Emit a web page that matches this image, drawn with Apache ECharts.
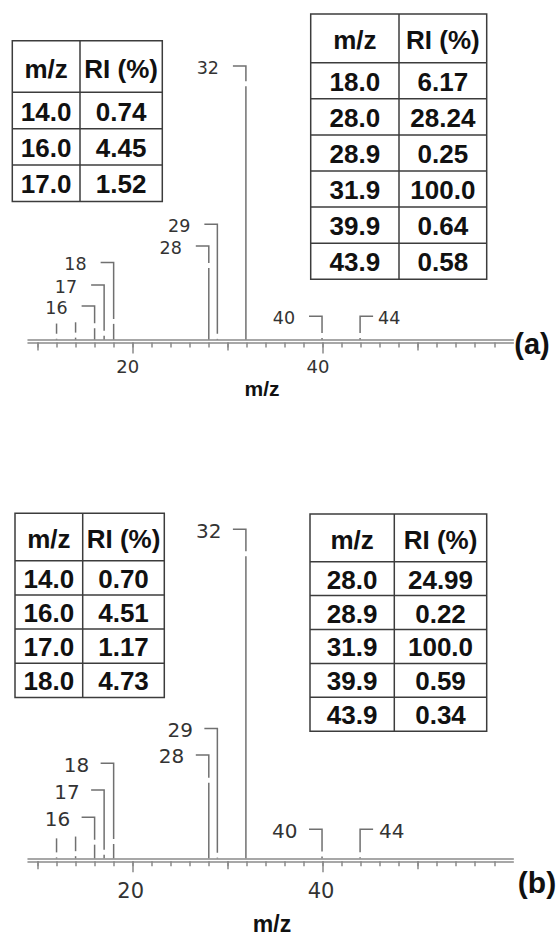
<!DOCTYPE html>
<html>
<head>
<meta charset="utf-8">
<script src="https://cdn.jsdelivr.net/npm/echarts@6/dist/echarts.min.js"></script>
<style>
    html, body { margin: 0; padding: 0; background: #fff; }
    #main { width: 558px; height: 936px; }
</style>
</head>
<body>
<div id="main"></div>
<script>
    // peaks (m/z, relative intensity %)
    var peakMz = [12.0, 14.0, 16.0, 17.0, 18.0, 28.0, 28.9, 31.9, 39.9, 43.9];
    var peakRiA = [0.3, 0.74, 4.45, 1.52, 6.17, 28.24, 0.25, 100.0, 0.64, 0.58];
    var peakRiB = [0.3, 0.70, 4.51, 1.17, 4.73, 24.99, 0.22, 100.0, 0.59, 0.34];
    var peakNames = ['', '', '16', '17', '18', '28', '29', '32', '40', '44'];
    // level (in % units) where each label hook sits
    var labelLevelA = [6.3, 6.8, 13.2, 21.5, 30.4, 36.9, 45.5, 108.0, 9.2, 9.2];
    var labelLevelB = [6.6, 7.2, 13.6, 22.6, 31.5, 34.2, 43.0, 108.9, 9.6, 9.6];
    var labelSide = ['l', 'l', 'l', 'l', 'l', 'l', 'l', 'l', 'l', 'r'];

    // axis ticks
    var minorTicks = [10, 12, 14, 16, 18, 20, 22, 24, 26, 28, 30, 32, 34, 36, 38, 40, 42, 44, 46, 48, 50, 52, 54, 56, 58];
    var midTicks = [10, 30, 50];
    var majorTicks = [20, 40];
    var tickLabels = [20, 40];

    // tables
    var tableHeader = ['m/z', 'RI (%)'];
    var tableA1 = [['14.0', '0.74'], ['16.0', '4.45'], ['17.0', '1.52']];
    var tableA2 = [['18.0', '6.17'], ['28.0', '28.24'], ['28.9', '0.25'], ['31.9', '100.0'], ['39.9', '0.64'], ['43.9', '0.58']];
    var tableB1 = [['14.0', '0.70'], ['16.0', '4.51'], ['17.0', '1.17'], ['18.0', '4.73']];
    var tableB2 = [['28.0', '24.99'], ['28.9', '0.22'], ['31.9', '100.0'], ['39.9', '0.59'], ['43.9', '0.34']];

    var AXIS_COLOR = '#8a8a8a';
    var LINE_COLOR = '#707070';
    var LABEL_FONT = '"DejaVu Sans", Verdana, sans-serif';
    var BOLD_FONT = '"Liberation Sans", Arial, sans-serif';

    function xAxesFor(gi, fs, margin, padR) {
        var base = { type: 'value', gridIndex: gi, min: 9, max: 60, position: 'bottom', splitLine: { show: false } };
        var ls = { color: AXIS_COLOR, width: 1.5 };
        return [
            Object.assign({}, base, {
                axisLine: { show: true, lineStyle: ls }, axisTick: { show: false }, axisLabel: { show: false }
            }),
            Object.assign({}, base, {
                offset: 3, axisLine: { show: true, lineStyle: ls },
                axisTick: { show: true, customValues: minorTicks, length: 5, lineStyle: ls },
                axisLabel: { show: false }
            }),
            Object.assign({}, base, {
                offset: 3, axisLine: { show: false },
                axisTick: { show: true, customValues: midTicks, length: 8, lineStyle: ls },
                axisLabel: { show: false }
            }),
            Object.assign({}, base, {
                offset: 3, axisLine: { show: false },
                axisTick: { show: true, customValues: majorTicks, length: 11, lineStyle: ls },
                axisLabel: {
                    show: true, customValues: tickLabels, fontSize: fs, margin: margin,
                    color: '#333', fontFamily: LABEL_FONT, padding: [0, padR, 0, 0]
                }
            })
        ];
    }

    function yAxisFor(gi) {
        return {
            type: 'value', gridIndex: gi, min: 0, max: 110, show: false,
            axisLine: { show: false }, axisTick: { show: false }, axisLabel: { show: false }, splitLine: { show: false }
        };
    }

    function peakSeries(gi, ris) {
        return {
            type: 'custom', xAxisIndex: gi * 4, yAxisIndex: gi, clip: false, silent: true,
            data: peakMz.map(function (m, i) { return [m, ris[i]]; }),
            renderItem: function (params, api) {
                var p0 = api.coord([api.value(0), 0]);
                var p1 = api.coord([api.value(0), api.value(1)]);
                return {
                    type: 'line',
                    shape: { x1: p0[0], y1: p0[1], x2: p1[0], y2: p1[1] },
                    style: { stroke: LINE_COLOR, lineWidth: 1.5 }
                };
            }
        };
    }

    function labelSeries(gi, ris, levels, o) {
        return {
            type: 'custom', xAxisIndex: gi * 4, yAxisIndex: gi, clip: false, silent: true,
            data: peakMz.map(function (m, i) { return [m, ris[i], levels[i]]; }),
            renderItem: function (params, api) {
                var i = params.dataIndex;
                var top = api.coord([api.value(0), api.value(2)]);
                var pk = api.coord([api.value(0), api.value(1)]);
                var x = top[0], ty = top[1], yEnd = pk[1] - o.gap;
                var st = { stroke: LINE_COLOR, lineWidth: 1.5, fill: null };
                var name = peakNames[i];
                if (!name) {
                    return { type: 'line', shape: { x1: x, y1: ty, x2: x, y2: yEnd }, style: st };
                }
                var dir = labelSide[i] === 'r' ? 1 : -1;
                return {
                    type: 'group',
                    children: [
                        {
                            type: 'polyline',
                            shape: { points: [[x + dir * o.hook, ty], [x, ty], [x, yEnd]] },
                            style: st
                        },
                        {
                            type: 'text',
                            x: x + dir * (o.hook + (dir > 0 ? o.gapR : o.gapL)),
                            y: ty + o.dy,
                            style: {
                                text: name, fontSize: o.fs, fontFamily: LABEL_FONT, fill: '#333',
                                align: dir > 0 ? 'left' : 'right', verticalAlign: 'middle'
                            }
                        }
                    ]
                };
            }
        };
    }

    function tableGraphic(x, y, colW, headH, rowH, rows, fs) {
        var els = [];
        var w = colW[0] + colW[1];
        var h = headH + rowH * rows.length;
        var st = { stroke: '#3c3c3c', lineWidth: 1.5 };
        els.push({ type: 'rect', shape: { x: x, y: y, width: w, height: h }, style: { fill: '#fff', stroke: '#3c3c3c', lineWidth: 1.5 } });
        els.push({ type: 'line', shape: { x1: x + colW[0], y1: y, x2: x + colW[0], y2: y + h }, style: st });
        for (var r = 0; r < rows.length; r++) {
            var ly = y + headH + r * rowH;
            els.push({ type: 'line', shape: { x1: x, y1: ly, x2: x + w, y2: ly }, style: st });
        }
        var cx = [x + colW[0] / 2, x + colW[0] + colW[1] / 2];
        var txt = function (t, tx, ty) {
            return {
                type: 'text', x: tx, y: ty,
                style: { text: t, fontSize: fs, fontWeight: 'bold', fontFamily: BOLD_FONT, fill: '#111', align: 'center', verticalAlign: 'middle' }
            };
        };
        els.push(txt(tableHeader[0], cx[0], y + headH / 2 + 2));
        els.push(txt(tableHeader[1], cx[1], y + headH / 2 + 2));
        rows.forEach(function (row, r) {
            var ry = y + headH + rowH * (r + 0.5) + 1;
            els.push(txt(row[0], cx[0], ry));
            els.push(txt(row[1], cx[1], ry));
        });
        return els;
    }

    var chart = echarts.init(document.getElementById('main'), null, { renderer: 'svg' });

    var graphics = []
        .concat(tableGraphic(12.3, 40.7, [67.7, 82.3], 51.6, 36.4, tableA1, 26))
        .concat(tableGraphic(310.7, 14, [88.3, 87.7], 48.7, 36.1, tableA2, 26))
        .concat(tableGraphic(15, 513.3, [67.7, 81.6], 47.4, 34.2, tableB1, 26))
        .concat(tableGraphic(310, 514, [84.3, 92.4], 47.7, 33.9, tableB2, 26))
        .concat([
            { type: 'text', x: 262, y: 388, style: { text: 'm/z', fontSize: 21, fontWeight: 'bold', fontFamily: BOLD_FONT, fill: '#111', align: 'center', verticalAlign: 'middle' } },
            { type: 'text', x: 272, y: 924, style: { text: 'm/z', fontSize: 23, fontWeight: 'bold', fontFamily: BOLD_FONT, fill: '#111', align: 'center', verticalAlign: 'middle' } },
            { type: 'text', x: 532, y: 344, style: { text: '(a)', fontSize: 29, fontWeight: 'bold', fontFamily: BOLD_FONT, fill: '#111', align: 'center', verticalAlign: 'middle' } },
            { type: 'text', x: 537, y: 882, style: { text: '(b)', fontSize: 30, fontWeight: 'bold', fontFamily: BOLD_FONT, fill: '#111', align: 'center', verticalAlign: 'middle' } }
        ]);

    chart.setOption({
        backgroundColor: '#fff',
        animation: false,
        grid: [
            { left: 28, top: 61, width: 485.3, height: 278.5 },
            { left: 28, top: 526, width: 485.3, height: 332.3 }
        ],
        xAxis: xAxesFor(0, 18, 15, 10).concat(xAxesFor(1, 21, 19, 4)),
        yAxis: [yAxisFor(0), yAxisFor(1)],
        series: [
            peakSeries(0, peakRiA),
            labelSeries(0, peakRiA, labelLevelA, { gap: 5, hook: 13, gapL: 14, gapR: 5, fs: 17.5, dy: 1.5 }),
            peakSeries(1, peakRiB),
            labelSeries(1, peakRiB, labelLevelB, { gap: 5, hook: 13, gapL: 11.5, gapR: 6, fs: 20, dy: 1.5 })
        ],
        graphic: graphics
    });

    window.addEventListener('resize', function () { chart.resize(); });
</script>
</body>
</html>
